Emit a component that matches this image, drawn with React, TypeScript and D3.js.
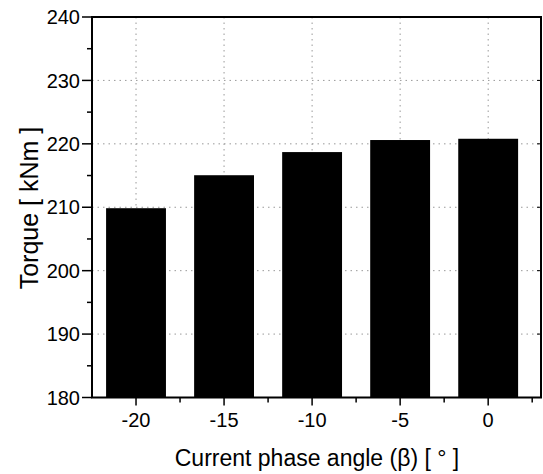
import React from "react";
import * as d3 from "d3";

const categories = [-20, -15, -10, -5, 0];
const torqueValues = [209.85, 215.05, 218.7, 220.6, 220.8];
const yTicks = [180, 190, 200, 210, 220, 230, 240];
const yMinorTicks = [185, 195, 205, 215, 225, 235];
const xMinorTicks = [-17.5, -12.5, -7.5, -2.5, 2.5];
const xTitle = "Current phase angle (\u03B2) [ \u00B0 ]";
const yTitle = "Torque [ kNm ]";

const W = 543;
const H = 474;
const left = 92;
const right = 541;
const top = 17;
const bottom = 397.5;

export default function App() {
  const x = d3.scaleLinear().domain([-22.5, 3]).range([left, right]);
  const y = d3.scaleLinear().domain([180, 240]).range([bottom, top]);
  const barW = x(3.4) - x(0);
  const font = "'Liberation Sans', Arial, sans-serif";
  const grid = "#999";
  return (
    <svg
      width={W}
      height={H}
      style={{ position: "absolute", left: 0, top: 0, background: "#fff" }}
      fontFamily={font}
    >
      <rect x={0} y={0} width={W} height={H} fill="#fff" />
      {/* grid */}
      {yTicks.slice(1, -1).map((t) => (
        <line
          key={"gy" + t}
          x1={left}
          x2={right}
          y1={y(t)}
          y2={y(t)}
          stroke={grid}
          strokeWidth={1}
          strokeDasharray="1.5,4"
        />
      ))}
      {categories.map((c) => (
        <line
          key={"gx" + c}
          x1={x(c)}
          x2={x(c)}
          y1={top}
          y2={bottom}
          stroke={grid}
          strokeWidth={1}
          strokeDasharray="1.5,4"
        />
      ))}
      {/* bars */}
      {categories.map((c, i) => (
        <rect
          key={"b" + c}
          x={x(c) - barW / 2}
          y={y(torqueValues[i])}
          width={barW}
          height={bottom - y(torqueValues[i])}
          fill="#000"
        />
      ))}
      {/* frame */}
      <rect
        x={left}
        y={top}
        width={right - left}
        height={bottom - top}
        fill="none"
        stroke="#000"
        strokeWidth={2}
      />
      {/* y ticks */}
      {yTicks.map((t) => (
        <g key={"yt" + t}>
          <line x1={left - 10} x2={left} y1={y(t)} y2={y(t)} stroke="#000" strokeWidth={1.5} />
          <line x1={right} x2={right - 4} y1={y(t)} y2={y(t)} stroke="#000" strokeWidth={1} />
          <text
            x={left - 12}
            y={y(t)}
            dy="0.36em"
            textAnchor="end"
            fontSize={20}
            fill="#000"
          >
            {t}
          </text>
        </g>
      ))}
      {yMinorTicks.map((t) => (
        <line key={"ym" + t} x1={left - 5} x2={left} y1={y(t)} y2={y(t)} stroke="#000" strokeWidth={1.5} />
      ))}
      {/* x ticks */}
      {categories.map((c) => (
        <g key={"xt" + c}>
          <line x1={x(c)} x2={x(c)} y1={bottom} y2={bottom + 8} stroke="#000" strokeWidth={1.5} />
          <text x={x(c)} y={427} textAnchor="middle" fontSize={20} fill="#000">
            {c}
          </text>
        </g>
      ))}
      {xMinorTicks.map((c) => (
        <line key={"xm" + c} x1={x(c)} x2={x(c)} y1={bottom} y2={bottom + 5} stroke="#000" strokeWidth={1.5} />
      ))}
      {/* titles */}
      <text x={317} y={466} textAnchor="middle" fontSize={23} fill="#000">
        {xTitle}
      </text>
      <text
        transform={`translate(38,${208}) rotate(-90)`}
        textAnchor="middle"
        fontSize={25}
        fill="#000"
      >
        {yTitle}
      </text>
    </svg>
  );
}
